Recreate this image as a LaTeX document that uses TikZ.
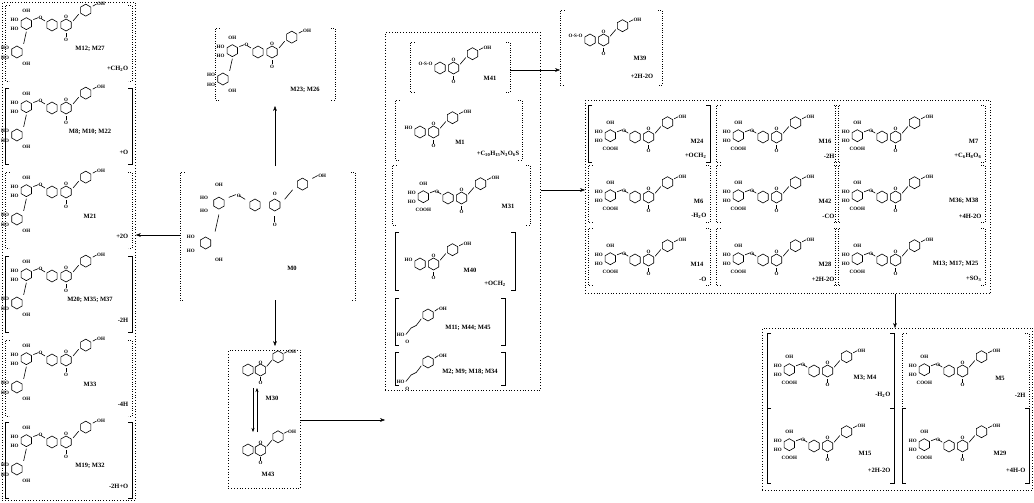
\documentclass[tikz,border=0pt]{standalone}
\usepackage{fontspec}
\setmainfont{Liberation Serif}
\usetikzlibrary{arrows.meta,calc}
\begin{document}
\begin{tikzpicture}[x=1pt,y=-1pt,
  lab/.style={font=\fontsize{6.5}{6.5}\selectfont\bfseries,inner sep=0.5pt},
  chem/.style={font=\fontsize{5}{5}\selectfont\bfseries,inner sep=0.3pt},
  box/.style={draw,dotted,thick},
  arr/.style={-{Stealth[length=5pt]},thin},
  ring/.pic={\draw[line width=0.6pt] (30:6)--(90:6)--(150:6)--(210:6)--(270:6)--(330:6)--cycle;},
  flav/.pic={
    \pic at (0,0) {ring}; \pic at (10.4,0) {ring};
    \draw[line width=0.6pt] (15.6,-3)--(19.8,-8); \pic at (25,-11) {ring};
    \draw[line width=0.6pt] (30.2,-14)--(33,-15.5) node[chem,right]{OH};
    \draw[line width=0.6pt] (10.4,6)--(10.4,9) node[chem,below]{O};
    \node[chem] at (10.4,-6) {O};},
  glyc/.pic={
    \draw[line width=0.6pt] (-5.2,-3)--(-8.5,-5) node[chem]{O} (-10,-5.5)--(-13.8,-4);
    \pic at (-19,-1) {ring};
    \node[chem,left] at (-24.5,-4) {HO}; \node[chem,left] at (-24.5,3) {HO};
    \node[chem] at (-19,-10.5) {OH}; \node[chem] at (-19,9.5) {COOH};},
  rham/.pic={
    \pic at (-19,-1) {ring};
    \draw[line width=0.6pt] (-5.2,-3)--(-8.5,-5) node[chem]{O} (-10,-5.5)--(-13.8,-4);
    \node[chem,left] at (-24.5,-4) {HO}; \node[chem,left] at (-24.5,3) {HO};
    \node[chem] at (-19,-10.5) {OH};
    \draw[line width=0.6pt] (-19,5)--(-21,14);
    \pic at (-26,20) {ring};
    \node[chem,left] at (-31.5,17) {HO}; \node[chem,left] at (-31.5,24) {HO};
    \node[chem] at (-19,29) {OH};},
  acid/.pic={
    \pic at (0,0) {ring};
    \draw[line width=0.6pt] (-5.2,3)--(-9,8)--(-13,10)--(-17,15);
    \node[chem] at (-21,15) {HO}; \node[chem] at (-16,21) {O};
    \draw[line width=0.6pt] (5.2,-3)--(8,-5) node[chem,right]{OH};}
]
\useasboundingbox (0,0) rectangle (1034,503);
\newcommand\brk[4]{\draw[dotted] (#1+4,#2)--(#1,#2)--(#1,#4)--(#1+4,#4);
  \draw[dotted] (#3-4,#2)--(#3,#2)--(#3,#4)--(#3-4,#4);}
\newcommand\sbrk[4]{\draw (#1+4,#2)--(#1,#2)--(#1,#4)--(#1+4,#4);
  \draw (#3-4,#2)--(#3,#2)--(#3,#4)--(#3-4,#4);}

% ---------- left box
\node[box,minimum width=133,minimum height=498,anchor=north west] (L) at (2,2) {};
\foreach \y/\n/\m [count=\i] in {5/{M12; M27}/{+CH\textsubscript{2}O},88/{M8; M10; M22}/+O,172/M21/+2O,256/{M20; M35; M37}/-2H,340/M33/-4H,422/{M19; M32}/-2H+O}{
  \ifodd\i \brk{5}{\y}{132}{\y+76}\else\sbrk{5}{\y}{132}{\y+76}\fi
  \pic[scale=1.35] at (52,\y+20) {flav}; \pic[scale=1.35] at (52,\y+20) {rham};
  \node[lab] at (90,\y+44) {\n};
  \node[lab,anchor=east] at (129,\y+64) {\m};
}

% ---------- M23;M26
\brk{215}{28}{335}{100}
\pic[scale=1.35] at (258,52) {flav}; \pic[scale=1.35] at (258,52) {rham};
\node[lab] at (305,90) {M23; M26};
\node[inner sep=0,minimum width=120,minimum height=72,anchor=north west] (M23box) at (215,28) {};

% ---------- M0
\brk{180}{172}{355}{300}
\node[inner sep=0,minimum width=175,minimum height=128,anchor=north west] (M0box) at (180,172) {};
\pic[scale=1.9] at (255,205) {flav}; \pic[scale=1.9] at (255,205) {rham};
\node[lab] at (292,268) {M0};

% ---------- M30 box
\node[box,minimum width=72,minimum height=138,anchor=north west] (M30box) at (228,350) {};
\pic[scale=1.2] at (248,370) {flav}; \node[lab] at (272,398) {M30};
\pic[scale=1.2] at (248,450) {flav}; \node[lab] at (268,474) {M43};
\draw[-{Stealth[length=4pt]}] (253,388)--(253,432); \draw[-{Stealth[length=4pt]}] (257,432)--(257,388);

% ---------- middle box
\node[box,minimum width=155,minimum height=358,anchor=north west] (Mid) at (385,32) {};
\brk{410}{42}{510}{92} \pic[scale=1.3] at (440,68) {flav}; \node[chem,left] at (433,64) {O-S-O}; \node[lab] at (490,78) {M41};
\node[inner sep=0,minimum width=100,minimum height=50,anchor=north west] (M41box) at (410,42) {};
\brk{395}{100}{522}{160} \pic[scale=1.3] at (420,132) {flav}; \node[chem,left] at (413,128) {HO}; \node[lab] at (460,142) {M1}; \node[lab,anchor=east] at (520,154) {+C\textsubscript{10}H\textsubscript{15}N\textsubscript{3}O\textsubscript{6}S};
\brk{392}{165}{530}{225} \pic[scale=1.3] at (448,198) {flav}; \pic[scale=1.3] at (448,198) {glyc}; \node[lab] at (508,206) {M31};
\sbrk{395}{232}{515}{290} \pic[scale=1.3] at (420,264) {flav}; \node[chem,left] at (413,260) {HO}; \node[lab] at (470,270) {M40}; \node[lab] at (495,284) {+OCH\textsubscript{2}};
\sbrk{395}{298}{505}{345} \pic[scale=1.3] at (428,315) {acid}; \node[lab] at (468,328) {M11; M44; M45};
\sbrk{395}{352}{505}{385} \pic[scale=1.3] at (428,362) {acid}; \node[lab] at (470,372) {M2; M9; M18; M34};

% ---------- M39
\brk{560}{10}{662}{85}
\node[inner sep=0,minimum width=102,minimum height=75,anchor=north west] (M39box) at (560,10) {};
\pic[scale=1.3] at (590,40) {flav}; \node[chem,left] at (583,36) {O-S-O};
\node[lab] at (640,58) {M39}; \node[lab] at (642,76) {+2H-2O};

% ---------- right box
\node[box,minimum width=405,minimum height=193,anchor=north west] (R) at (585,100) {};
\foreach \x/\y/\w/\n/\m/\s in {
  588/105/122/M24/{+OCH\textsubscript{2}}/1, 716/105/122/M16/-2H/0, 835/105/150/M7/{+C\textsubscript{6}H\textsubscript{8}O\textsubscript{6}}/0,
  588/165/122/M6/{-H\textsubscript{2}O}/0, 716/165/122/M42/-CO/0, 835/165/150/{M36; M38}/+4H-2O/0,
  588/228/122/M14/-O/0, 716/228/122/M28/+2H-2O/0, 835/228/150/{M13; M17; M25}/{+SO\textsubscript{3}}/0}{
  \ifnum\s=1 \sbrk{\x}{\y}{\x+\w}{\y+57}\else\brk{\x}{\y}{\x+\w}{\y+57}\fi
  \pic[scale=1.3] at (\x+47,\y+32) {flav}; \pic[scale=1.3] at (\x+47,\y+32) {glyc};
  \node[lab,anchor=east] at (\x+\w-6,\y+36) {\n};
  \node[lab,anchor=east] at (\x+\w-3,\y+51) {\m};
}

% ---------- bottom right box
\node[box,minimum width=270,minimum height=162,anchor=north west] (BR) at (762,328) {};
\foreach \x/\y/\n/\m/\s in {
  767/333/{M3; M4}/{-H\textsubscript{2}O}/1, 902/333/M5/-2H/0,
  767/408/M15/+2H-2O/1, 902/408/M29/+4H-O/1}{
  \ifnum\s=1 \sbrk{\x}{\y}{\x+127}{\y+75}\else\brk{\x}{\y}{\x+127}{\y+75}\fi
  \pic[scale=1.3] at (\x+47,\y+38) {flav}; \pic[scale=1.3] at (\x+47,\y+38) {glyc};
  \node[lab] at (\x+98,\y+45) {\n}; \node[lab,anchor=east] at (\x+124,\y+62) {\m};
}

% ---------- arrows
\coordinate (a1) at (275,166); \coordinate (a2) at (275,106);
\draw[arr] (a1) -- (a2);
\coordinate (b1) at (275,300); \coordinate (b2) at (275,346);
\draw[arr] (b1) -- (b2);
\draw[arr] (M0box.west |- 0,235) -- (L.east |- 0,235);
\draw[arr] (M30box.east |- 0,420) -- (Mid.west |- 0,420);
\draw[arr] (M41box.east |- 0,70) -- (M39box.west |- 0,70);
\draw[arr] (Mid.east |- 0,190) -- (R.west |- 0,190);
\draw[arr] (R.south -| 895,0) -- (BR.north -| 895,0);
\end{tikzpicture}
\end{document}
